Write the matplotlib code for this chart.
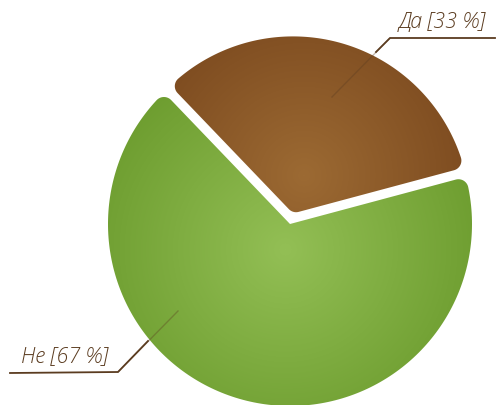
import numpy as np
import matplotlib
matplotlib.use('Agg')
import matplotlib.pyplot as plt
from matplotlib.path import Path
from matplotlib.patches import PathPatch
from matplotlib.colors import LinearSegmentedColormap

# данные
labels = ['Да', 'Не']
values = [33, 67]

start = 15.0          # начальный угол первого сектора, градусы
cx, cy = 290, 225     # центр круга (пиксели, y вниз)
radii = [177, 182]
explode = [11, 0]
corner = 10
colors_in = ['#9c6a33', '#93bf55']
colors_out = ['#74421a', '#6a9a2c']


def pt(x0, y0, a, d):
    a = np.radians(a)
    return x0 + d * np.cos(a), y0 - d * np.sin(a)


def arc(x0, y0, d, a1, a2, n=40):
    aa = np.linspace(a1, a2, n)
    return [pt(x0, y0, a, d) for a in aa]


def rounded_sector(x0, y0, R, t1, t2, r):
    span = t2 - t1
    dl = np.degrees(np.arcsin(r / (R - r)))
    f1 = pt(x0, y0, t1 + dl, R - r)
    f2 = pt(x0, y0, t2 - dl, R - r)
    pts = []
    if span < 180:
        half = np.radians(span / 2)
        d0 = r / np.sin(half)
        fc = pt(x0, y0, t1 + span / 2, d0)
        pts += [pt(x0, y0, t1, r / np.tan(half))]
    else:
        fc = None
        pts += [(x0, y0)]
    pts += arc(*f1, r, t1 - 90, t1 + dl, 15)
    pts += arc(x0, y0, R, t1 + dl, t2 - dl, 200)
    pts += arc(*f2, r, t2 - dl, t2 + 90, 15)
    if fc is not None:
        pts += arc(*fc, r, t2 + 90, t1 + 270, 15)
    return Path(pts + [pts[0]], closed=True)


fig = plt.figure(figsize=(4.98, 4.06), dpi=100)
ax = fig.add_axes([0, 0, 1, 1])
ax.set_xlim(0, 498)
ax.set_ylim(406, 0)
ax.set_aspect('equal')
ax.axis('off')

yy, xx = np.mgrid[0:406, 0:498]
a = start
for i, v in enumerate(values):
    span = 360 * v / sum(values)
    mid = a + span / 2
    ox, oy = pt(cx, cy, mid, explode[i])
    path = rounded_sector(ox, oy, radii[i], a, a + span, corner)
    if i == 0:
        gx, gy = pt(ox, oy, mid, 40)
    else:
        gx, gy = cx - 5, cy + 25
    dist = np.hypot(xx - gx, yy - gy) / 220
    cmap = LinearSegmentedColormap.from_list('g', [colors_in[i], colors_out[i]])
    im = ax.imshow(np.clip(dist, 0, 1), cmap=cmap, vmin=0, vmax=1,
                   extent=(0, 498, 406, 0), interpolation='bilinear', zorder=1)
    patch = PathPatch(path, facecolor='none', edgecolor='none')
    ax.add_patch(patch)
    im.set_clip_path(patch)
    a += span

ink = '#5b3c20'
font = ['Open Sans', 'DejaVu Sans']

# подпись "Да"
ax.plot([332, 390], [98, 39], color=ink, lw=1.0, alpha=0.35, zorder=3)
ax.plot([376, 390, 495], [53, 39, 39], color=ink, lw=1.3, zorder=3)
ax.text(442, 22, f'{labels[0]} [{values[0]} %]', ha='center', va='center',
        fontsize=15.5, color=ink, family=font, style='italic', weight='light')

# подпись "Не"
ax.plot([118, 178], [373, 312], color=ink, lw=1.0, alpha=0.35, zorder=3)
ax.plot([10, 118, 148], [374, 373, 342], color=ink, lw=1.3, zorder=3)
ax.text(64, 356, f'{labels[1]} [{values[1]} %]', ha='center', va='center',
        fontsize=15.5, color=ink, family=font, style='italic', weight='light')

plt.savefig('out.png', dpi=100)
